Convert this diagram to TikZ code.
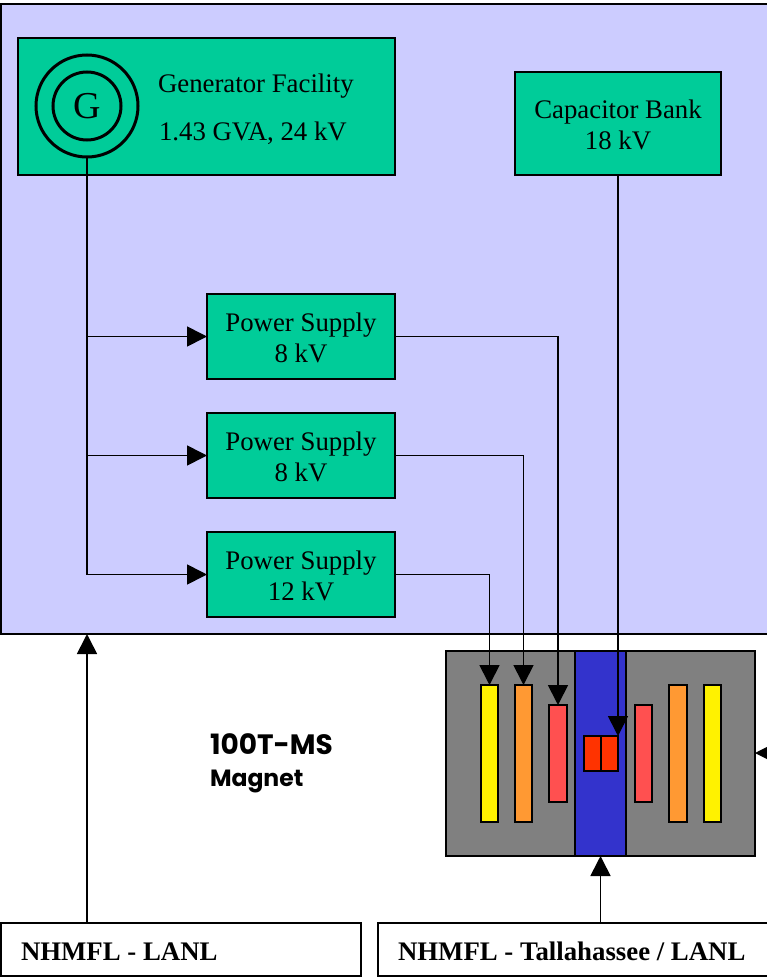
\documentclass[tikz,border=0pt]{standalone}
\usepackage{fontspec}
\setmainfont{Liberation Serif}
\newfontfamily\handfont{Poppins}
\usetikzlibrary{arrows.meta}
\definecolor{lav}{HTML}{CCCCFF}
\definecolor{grn}{HTML}{00CC99}
\definecolor{mgray}{HTML}{808080}
\definecolor{mblue}{HTML}{3333CC}
\definecolor{morange}{HTML}{FF9933}
\definecolor{mred}{HTML}{FF5050}
\definecolor{mcore}{HTML}{FF3300}
\tikzset{
  x=1pt,y=-1pt,
  every node/.style={inner sep=0pt,outer sep=0pt},
  frame/.style={draw=black,line width=1.5pt,rectangle,anchor=center},
  gbox/.style={frame,fill=grn,font=\fontsize{26.8}{31.5}\selectfont,align=center},
  lbox/.style={frame,fill=white},
  coil/.style={frame,minimum width=17pt},
  ring/.style={draw=black,line width=3pt,circle,anchor=center},
  conn/.style={draw=black,line width=1.7pt},
  arr/.style={conn,-{Triangle[length=20pt,width=20pt]}},
  hand/.style={font=\handfont\bfseries\fontsize{#1}{#1}\selectfont,anchor=base west},
}
\newcommand{\boxat}[7][]{\node[#2,#1,minimum width=#5-#3,minimum height=#6-#4] (#7) at ({(#3+#5)/2},{(#4+#6)/2})}
\newcommand{\lift}{\rule{0pt}{21pt}}
\begin{document}
\begin{tikzpicture}
\clip[use as bounding box] (0,0) rectangle (767,977);
\boxat{frame,fill=lav}{1}{4}{790}{634}{outer} {};
\boxat{gbox}{18}{38}{395}{175}{gen} {};
\node[ring,minimum size=68pt] (gi) at (87,106) {\fontsize{38}{38}\selectfont\raisebox{-1.5pt}{G}};
\node[ring,minimum size=102pt] (g) at (87,106) {};
\node[font=\fontsize{26.8}{26.8}\selectfont,anchor=base west] (gt1) at (158,92) {Generator Facility};
\node[font=\fontsize{26.8}{26.8}\selectfont,anchor=base west] (gt2) at (159,140) {1.43 GVA, 24 kV};
\boxat{gbox}{515}{72}{721}{175}{cap} {\lift Capacitor Bank\\18 kV};
\boxat{gbox}{207}{294}{395}{379}{psa} {\lift Power Supply\\8 kV};
\boxat{gbox}{207}{413}{395}{498}{psb} {\lift Power Supply\\8 kV};
\boxat{gbox}{207}{532}{395}{617}{psc} {\lift Power Supply\\12 kV};
\boxat{frame,fill=mgray}{446}{651}{755}{856}{mag} {};
\boxat{frame,fill=mblue}{575}{651}{626}{856}{bore} {};
\boxat{coil,fill=yellow}{481}{685}{498}{822}{yl} {};
\boxat{coil,fill=morange}{515}{685}{532}{822}{ol} {};
\boxat{coil,fill=mred}{549}{705}{567}{802}{rl} {};
\boxat{coil,fill=mred}{635}{705}{652}{802}{rr} {};
\boxat{coil,fill=morange}{669}{685}{687}{822}{or} {};
\boxat{coil,fill=yellow}{704}{685}{721}{822}{yr} {};
\boxat{frame,fill=mcore}{584}{736}{601}{771}{ca} {};
\boxat{frame,fill=mcore}{601}{736}{618}{771}{cb} {};
\boxat{lbox}{1}{923}{361}{976}{lanl} {};
\boxat{lbox}{378}{923}{790}{976}{tal} {};
\node[font=\bfseries\fontsize{26.8}{26.8}\selectfont,anchor=base west] (lt) at (21,960) {NHMFL - LANL};
\node[font=\bfseries\fontsize{26.8}{26.8}\selectfont,anchor=base west] (tt) at (398,960) {NHMFL - Tallahassee / LANL};
\node[hand=28] (mta) at (210,754) {100T-MS};
\node[hand=23.5] (mtb) at (210,786) {Magnet};
\coordinate (free) at (775,753);
\draw[conn] (g.south) -- (g.south |- psc.west);
\draw[arr] (g.south |- psa.west) -- (psa.west);
\draw[arr] (g.south |- psb.west) -- (psb.west);
\draw[arr] (g.south |- psc.west) -- (psc.west);
\draw[arr] (psa.east) -| (rl.north);
\draw[arr] (psb.east) -| (ol.north);
\draw[arr] (psc.east) -| (yl.north);
\draw[arr] (cap.south) -- (cap.south |- cb.north);
\draw[arr] (g.south |- lanl.north) -- (g.south |- outer.south);
\draw[arr] (bore.south |- tal.north) -- (bore.south);
\draw[arr] (free) -- (free -| mag.east);
\end{tikzpicture}
\end{document}
